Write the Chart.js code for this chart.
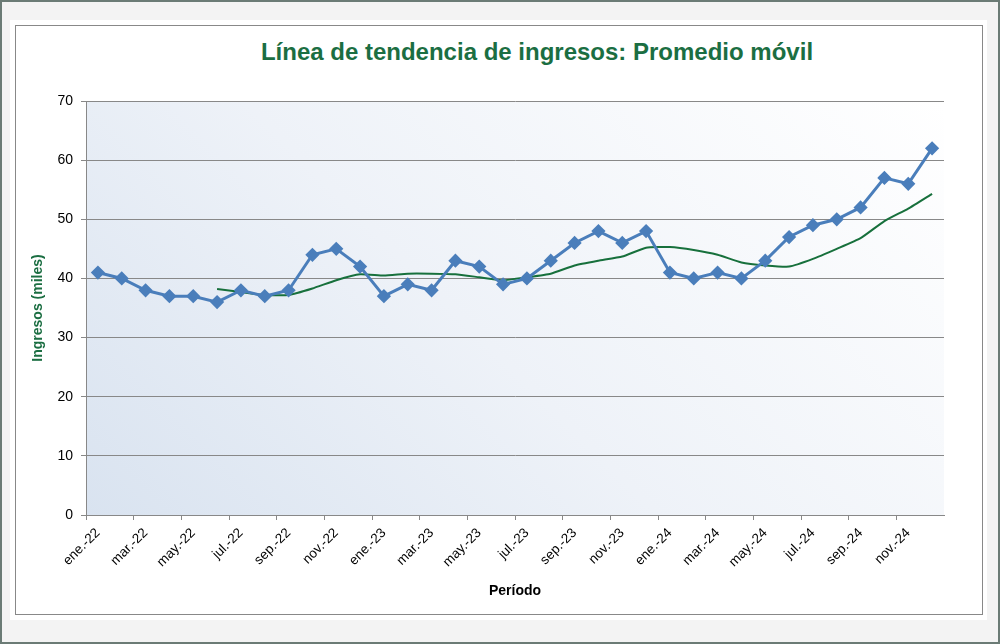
<!DOCTYPE html>
<html>
<head>
<meta charset="utf-8">
<script src="https://cdn.jsdelivr.net/npm/chart.js@4"></script>
<style>
  html, body { margin: 0; padding: 0; }
  body { width: 1000px; height: 644px; position: relative; overflow: hidden; font-family: "Liberation Sans", Arial, sans-serif; }
  #marco { position: absolute; left: 0; top: 0; width: 996px; height: 640px; border: 2px solid #6b7b75; background: #f3f3f3; }
  #panel { position: absolute; left: 10px; top: 20px; width: 977px; height: 600px; background: #fff; }
  #borde { position: absolute; left: 15px; top: 25px; width: 966px; height: 588px; border: 1px solid #888; }
  #titulo { position: absolute; left: 207px; top: 38px; width: 660px; text-align: center; font-size: 24px; line-height: 28px; font-weight: bold; color: #1b6e42; }
  #grafico { position: absolute; left: 0; top: 0; }
</style>
</head>
<body>
<div id="marco"></div>
<div id="panel"></div>
<div id="borde"></div>
<div id="titulo">Línea de tendencia de ingresos: Promedio móvil</div>
<canvas id="grafico" width="1000" height="644"></canvas>
<script>
// datos (miles)
var meses = ['ene.-22','feb.-22','mar.-22','abr.-22','may.-22','jun.-22','jul.-22','ago.-22','sep.-22','oct.-22','nov.-22','dic.-22',
             'ene.-23','feb.-23','mar.-23','abr.-23','may.-23','jun.-23','jul.-23','ago.-23','sep.-23','oct.-23','nov.-23','dic.-23',
             'ene.-24','feb.-24','mar.-24','abr.-24','may.-24','jun.-24','jul.-24','ago.-24','sep.-24','oct.-24','nov.-24','dic.-24'];
var ingresos = [41,40,38,37,37,36,38,37,38,44,45,42,
                37,39,38,43,42,39,40,43,46,48,46,48,
                41,40,41,40,43,47,49,50,52,57,56,62];
var promedioMovil = [null,null,null,null,null,38.2,37.7,37.2,37.2,38.3,39.7,40.7,
                     40.5,40.8,40.8,40.7,40.2,39.7,40.2,40.8,42.2,43.0,43.7,45.2,
                     45.3,44.8,44.0,42.7,42.2,42.0,43.3,45.0,46.8,49.7,51.8,54.3];
var ticksY = [0,10,20,30,40,50,60,70];

var gris = '#888888';
var verde = '#1b6e42';
var azul = '#4a7ebb';

var fondoDegradado = {
    id: 'fondoDegradado',
    beforeDraw: function (chart) {
        var a = chart.chartArea;
        var ctx = chart.ctx;
        var d = ((a.right - a.left) + (a.bottom - a.top)) / 2;
        var g = ctx.createLinearGradient(a.left, a.bottom, a.left + d, a.bottom - d);
        g.addColorStop(0, '#d9e3f0');
        g.addColorStop(0.45, '#eef2f8');
        g.addColorStop(1, '#ffffff');
        ctx.save();
        ctx.fillStyle = g;
        ctx.fillRect(a.left, a.top, a.right - a.left, a.bottom - a.top);
        ctx.restore();
    }
};

var ctx = document.getElementById('grafico');
var grafico = new Chart(ctx, {
    type: 'line',
    data: {
        labels: meses,
        datasets: [{
            label: 'Ingresos',
            data: ingresos,
            borderColor: azul,
            backgroundColor: azul,
            borderWidth: 3,
            pointStyle: 'rectRot',
            pointRadius: 5,
            pointHoverRadius: 5,
            tension: 0
        }, {
            label: 'Promedio móvil',
            data: promedioMovil,
            borderColor: '#17703c',
            borderWidth: 2,
            pointRadius: 0,
            tension: 0.15,
            spanGaps: false
        }]
    },
    options: {
        responsive: false,
        animation: false,
        devicePixelRatio: 1,
        layout: { padding: { left: 0, top: 101, right: 56, bottom: 40 } },
        plugins: {
            legend: { display: false },
            title: { display: false },
            tooltip: { enabled: false }
        },
        scales: {
            x: {
                offset: true,
                afterFit: function (s) { s.height = 89; },
                grid: {
                    offset: true,
                    drawOnChartArea: false,
                    tickLength: 5,
                    tickColor: function (c) { return c.index % 2 === 0 ? gris : 'rgba(0,0,0,0)'; }
                },
                border: { color: gris },
                ticks: {
                    autoSkip: false,
                    maxRotation: 45,
                    minRotation: 45,
                    padding: 5,
                    color: '#000',
                    font: { family: 'Liberation Sans', size: 13.5 },
                    callback: function (v, i) { return i % 2 === 0 ? meses[i] : ''; }
                },
                title: {
                    display: true,
                    text: 'Período',
                    color: '#000',
                    font: { family: 'Liberation Sans', size: 14, weight: 'bold' },
                    padding: { top: 0, bottom: 4 }
                }
            },
            y: {
                min: 0,
                max: 70,
                afterFit: function (s) { s.width = 86; },
                afterBuildTicks: function (s) { s.ticks = ticksY.map(function (v) { return { value: v }; }); },
                grid: { color: gris, tickLength: 5, tickColor: gris },
                border: { color: gris },
                ticks: {
                    padding: 8,
                    color: '#000',
                    font: { family: 'Liberation Sans', size: 14 }
                },
                title: {
                    display: true,
                    text: 'Ingresos (miles)',
                    color: verde,
                    font: { family: 'Liberation Sans', size: 14, weight: 'bold' },
                    padding: { top: 30, bottom: 0 }
                }
            }
        }
    },
    plugins: [fondoDegradado]
});
</script>
</body>
</html>
